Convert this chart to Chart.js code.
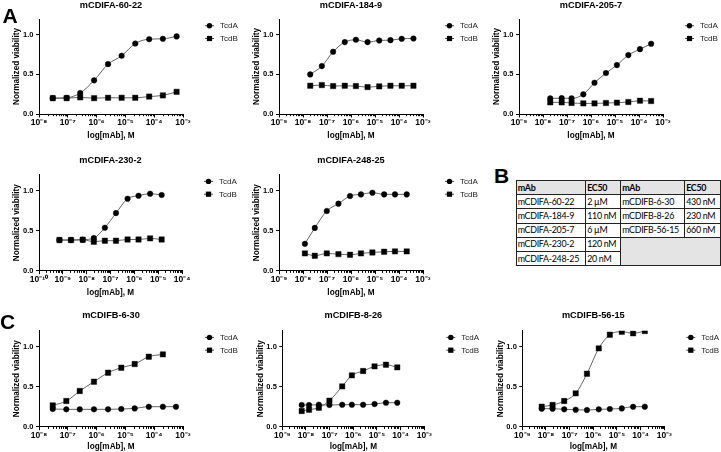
<!DOCTYPE html>
<html><head><meta charset="utf-8">
<script src="https://cdn.jsdelivr.net/npm/chart.js@4.4.1/dist/chart.umd.min.js"></script>
<style>
html,body{margin:0;padding:0;background:#fff;}
#wrap{position:relative;width:721px;height:452px;overflow:hidden;background:#fff;font-family:"Liberation Sans",Arial,sans-serif;}
canvas{position:absolute;background:#fff;}
.lbl{position:absolute;font-weight:bold;font-size:21px;line-height:1;color:#000;font-family:"Liberation Sans",Arial,sans-serif;}
#ec50{position:absolute;left:515.5px;top:180px;border-collapse:collapse;table-layout:fixed;width:204px;font-family:Lato,"Liberation Sans",sans-serif;font-size:8.9px;letter-spacing:-0.3px;color:#000;}
#ec50 td{border:1px solid #222;height:13.2px;padding:0 0 0 1.2px;white-space:nowrap;overflow:hidden;line-height:12px;}
#ec50 tr.hd td{background:#e4e4e4;font-weight:bold;}
#ec50 td.empty{background:#e4e4e4;}
</style>
</head><body>
<div id="wrap">
  <canvas id="c1" width="240" height="150" style="left:0;top:0"></canvas>
  <canvas id="c2" width="240" height="150" style="left:240px;top:0"></canvas>
  <canvas id="c3" width="241" height="150" style="left:480px;top:0"></canvas>
  <canvas id="c4" width="240" height="150" style="left:0;top:150px"></canvas>
  <canvas id="c5" width="240" height="150" style="left:240px;top:150px"></canvas>
  <canvas id="c6" width="240" height="152" style="left:0;top:300px"></canvas>
  <canvas id="c7" width="240" height="152" style="left:240px;top:300px"></canvas>
  <canvas id="c8" width="241" height="152" style="left:480px;top:300px"></canvas>
  <div class="lbl" style="left:2.5px;top:5px">A</div>
  <div class="lbl" style="left:494px;top:165px">B</div>
  <div class="lbl" style="left:0px;top:311px">C</div>
  <table id="ec50"><colgroup><col style="width:69.5px"><col style="width:35px"><col style="width:64px"><col style="width:35.5px"></colgroup><tbody id="ec50body"></tbody></table>
</div>
<script>
// ---------- tick values / labels ----------
const xTickVals_8_3 = [1e-8, 1e-7, 1e-6, 1e-5, 1e-4, 1e-3];
const xTickLbls_8_3 = ['10⁻⁸', '10⁻⁷', '10⁻⁶', '10⁻⁵', '10⁻⁴', '10⁻³'];
const xTickVals_9_3 = [1e-9, 1e-8, 1e-7, 1e-6, 1e-5, 1e-4, 1e-3];
const xTickLbls_9_3 = ['10⁻⁹', '10⁻⁸', '10⁻⁷', '10⁻⁶', '10⁻⁵', '10⁻⁴', '10⁻³'];
const xTickVals_10_4 = [1e-10, 1e-9, 1e-8, 1e-7, 1e-6, 1e-5, 1e-4];
const xTickLbls_10_4 = ['10⁻¹⁰', '10⁻⁹', '10⁻⁸', '10⁻⁷', '10⁻⁶', '10⁻⁵', '10⁻⁴'];
const yTickVals = [0, 0.5, 1.0];
const yTickLbls = ['0.0', '0.5', '1.0'];
const seriesNames = ['TcdA', 'TcdB'];
const xAxisTitle = 'log[mAb], M';
const yAxisTitle = 'Normalized viability';

// ---------- data (concentration in M, normalized viability) ----------
const conc_60_22 = [3.0e-8, 9.1e-8, 2.7e-7, 8.2e-7, 2.5e-6, 7.4e-6, 2.2e-5, 6.7e-5, 2.0e-4, 6.0e-4];
const tcdA_60_22 = [0.20, 0.205, 0.265, 0.425, 0.63, 0.735, 0.89, 0.945, 0.95, 0.98];
const tcdB_60_22 = [0.20, 0.20, 0.21, 0.20, 0.205, 0.205, 0.205, 0.22, 0.235, 0.28];

const conc_184_9 = [2.0e-8, 6.1e-8, 1.8e-7, 5.5e-7, 1.6e-6, 4.9e-6, 1.5e-5, 4.4e-5, 1.3e-4, 4.0e-4];
const tcdA_184_9 = [0.50, 0.605, 0.786, 0.908, 0.937, 0.908, 0.929, 0.933, 0.95, 0.954];
const tcdB_184_9 = [0.357, 0.365, 0.353, 0.357, 0.353, 0.34, 0.349, 0.357, 0.357, 0.357];

const conc_205_7 = [2.0e-8, 6.0e-8, 1.55e-7, 4.8e-7, 1.4e-6, 4.2e-6, 1.2e-5, 3.6e-5, 1.1e-4, 3.2e-4];
const tcdA_205_7 = [0.197, 0.20, 0.197, 0.248, 0.395, 0.517, 0.618, 0.744, 0.819, 0.887];
const tcdB_205_7 = [0.147, 0.147, 0.139, 0.134, 0.134, 0.139, 0.143, 0.151, 0.168, 0.164];

const conc_230_2 = [7.2e-10, 2.2e-9, 6.8e-9, 2.0e-8, 5.8e-8, 1.7e-7, 5.2e-7, 1.5e-6, 4.6e-6, 1.4e-5];
const tcdA_230_2 = [0.383, 0.383, 0.388, 0.408, 0.5375, 0.72, 0.90, 0.9375, 0.9625, 0.946];
const tcdB_230_2 = [0.383, 0.383, 0.3875, 0.3625, 0.375, 0.375, 0.39, 0.39, 0.404, 0.39];

const conc_248_25 = [1.2e-8, 3.1e-8, 9.8e-8, 3.0e-7, 9.1e-7, 2.6e-6, 7.8e-6, 2.4e-5, 6.8e-5, 2.1e-4];
const tcdA_248_25 = [0.336, 0.535, 0.747, 0.838, 0.934, 0.954, 0.975, 0.954, 0.954, 0.954];
const tcdB_248_25 = [0.216, 0.187, 0.216, 0.207, 0.199, 0.216, 0.228, 0.237, 0.241, 0.241];

const conc_6_30 = [3.0e-8, 8.9e-8, 2.6e-7, 8.1e-7, 2.5e-6, 7.2e-6, 2.1e-5, 6.5e-5, 2.0e-4, 5.7e-4];
const tcdA_6_30 = [0.221, 0.217, 0.217, 0.217, 0.217, 0.221, 0.229, 0.25, 0.25, 0.25];
const tcdB_6_30 = [0.267, 0.321, 0.446, 0.5625, 0.675, 0.7375, 0.783, 0.875, 0.904, null];

const conc_8_26 = [6.6e-9, 1.35e-8, 3.5e-8, 9.8e-8, 3.4e-7, 8.7e-7, 2.6e-6, 7.9e-6, 2.4e-5, 7.2e-5];
const tcdA_8_26 = [0.271, 0.271, 0.275, 0.271, 0.275, 0.275, 0.275, 0.283, 0.30, 0.30];
const tcdB_8_26 = [0.196, 0.2125, 0.2375, 0.325, 0.504, 0.642, 0.696, 0.754, 0.775, 0.742];

const conc_56_15 = [6.6e-9, 1.9e-8, 5.9e-8, 1.8e-7, 5.4e-7, 1.7e-6, 5.0e-6, 1.6e-5, 4.8e-5, 1.5e-4];
const tcdA_56_15 = [0.225, 0.225, 0.217, 0.2125, 0.208, 0.217, 0.221, 0.229, 0.25, 0.25];
const tcdB_56_15 = [0.25, 0.271, 0.321, 0.417, 0.6625, 0.979, 1.15, 1.1875, 1.167, 1.196];

// ---------- EC50 table ----------
const tblA_mAb = ['mCDIFA-60-22', 'mCDIFA-184-9', 'mCDIFA-205-7', 'mCDIFA-230-2', 'mCDIFA-248-25'];
const tblA_ec50 = ['2 µM', '110 nM', '6 µM', '120 nM', '20 nM'];
const tblB_mAb = ['mCDIFB-6-30', 'mCDIFB-8-26', 'mCDIFB-56-15'];
const tblB_ec50 = ['430 nM', '230 nM', '660 nM'];
const tblHeader = ['mAb', 'EC50', 'mAb', 'EC50'];

(function buildTable(){
  const tb = document.getElementById('ec50body');
  let h = '<tr class="hd">' + tblHeader.map(t => '<td>' + t + '</td>').join('') + '</tr>';
  for (let i = 0; i < tblA_mAb.length; i++) {
    h += '<tr><td>' + tblA_mAb[i] + '</td><td>' + tblA_ec50[i] + '</td>';
    if (i < tblB_mAb.length) h += '<td>' + tblB_mAb[i] + '</td><td>' + tblB_ec50[i] + '</td>';
    else if (i === tblB_mAb.length) h += '<td class="empty" colspan="2" rowspan="' + (tblA_mAb.length - tblB_mAb.length) + '"></td>';
    h += '</tr>';
  }
  tb.innerHTML = h;
})();

// ---------- chart panels ----------
const panels = [
  {id:'c1', title:'mCDIFA-60-22', x:conc_60_22, a:tcdA_60_22, b:tcdB_60_22, xt:xTickVals_8_3, xl:xTickLbls_8_3},
  {id:'c2', title:'mCDIFA-184-9', x:conc_184_9, a:tcdA_184_9, b:tcdB_184_9, xt:xTickVals_9_3, xl:xTickLbls_9_3},
  {id:'c3', title:'mCDIFA-205-7', x:conc_205_7, a:tcdA_205_7, b:tcdB_205_7, xt:xTickVals_9_3, xl:xTickLbls_9_3},
  {id:'c4', title:'mCDIFA-230-2', x:conc_230_2, a:tcdA_230_2, b:tcdB_230_2, xt:xTickVals_10_4, xl:xTickLbls_10_4},
  {id:'c5', title:'mCDIFA-248-25', x:conc_248_25, a:tcdA_248_25, b:tcdB_248_25, xt:xTickVals_9_3, xl:xTickLbls_9_3},
  {id:'c6', title:'mCDIFB-6-30', x:conc_6_30, a:tcdA_6_30, b:tcdB_6_30, xt:xTickVals_8_3, xl:xTickLbls_8_3},
  {id:'c7', title:'mCDIFB-8-26', x:conc_8_26, a:tcdA_8_26, b:tcdB_8_26, xt:xTickVals_9_3, xl:xTickLbls_9_3},
  {id:'c8', title:'mCDIFB-56-15', x:conc_56_15, a:tcdA_56_15, b:tcdB_56_15, xt:xTickVals_9_3, xl:xTickLbls_9_3}
];
// layout geometry (pixels inside each canvas)
const geom = {
  c1:{L:39, R:183, T:19, B:114, tTop:0, xTitleY:135.7, yTitleX:16.7},
  c2:{L:39, R:183, T:19, B:114, tTop:0, xTitleY:135.7, yTitleX:16.7},
  c3:{L:39, R:183, T:19, B:114, tTop:0, xTitleY:135.7, yTitleX:16.7},
  c4:{L:39, R:182, T:24.7, B:120.7, tTop:4.6, xTitleY:142.3, yTitleX:16.7},
  c5:{L:39, R:183, T:24.7, B:120.7, tTop:4.6, xTitleY:142.3, yTitleX:16.7},
  c6:{L:39, R:183, T:30.7, B:126.7, tTop:10.3, xTitleY:146.7, yTitleX:16.7},
  c7:{L:42.3, R:184.3, T:30.7, B:126.7, tTop:10.3, xTitleY:146.7, yTitleX:20.7},
  c8:{L:42.3, R:184.3, T:30.7, B:126.7, tTop:10.3, xTitleY:146.7, yTitleX:20.7}
};

const FONT = '"Liberation Sans", Arial, sans-serif';
Chart.defaults.font.family = FONT;
Chart.defaults.color = '#000';

const extras = {
  id: 'extras',
  afterDraw(chart) {
    const c = chart.ctx, xs = chart.scales.x;
    c.save();
    // minor ticks on log axis
    c.strokeStyle = '#000'; c.lineWidth = 1;
    const lo = Math.floor(Math.log10(xs.min) + 1e-9), hi = Math.ceil(Math.log10(xs.max) - 1e-9);
    for (let d = lo; d < hi; d++) {
      for (let k = 2; k <= 9; k++) {
        const v = k * Math.pow(10, d);
        if (v < xs.min || v > xs.max) continue;
        const px = Math.round(xs.getPixelForValue(v)) + 0.5;
        c.beginPath(); c.moveTo(px, xs.top); c.lineTo(px, xs.top + 2.2); c.stroke();
      }
    }
    // legend
    const ca = chart.chartArea;
    const lx = ca.right + 26.5;
    chart.data.datasets.forEach((ds, i) => {
      const ly = ca.top + 6.7 + i * 12.8;
      c.strokeStyle = '#333'; c.lineWidth = 0.9;
      c.beginPath(); c.moveTo(lx - 4.5, ly); c.lineTo(lx + 4.5, ly); c.stroke();
      c.fillStyle = '#000';
      if (ds.pointStyle === 'rect') { c.fillRect(lx - 2.6, ly - 2.6, 5.2, 5.2); }
      else { c.beginPath(); c.arc(lx, ly, 2.7, 0, Math.PI * 2); c.fill(); }
      c.fillStyle = '#222'; c.font = '8px ' + FONT; c.textBaseline = 'middle'; c.textAlign = 'left';
      c.fillText(ds.label, lx + 10.5, ly + 0.3);
    });
    c.restore();
  }
};

function pts(xs, ys) {
  const out = [];
  for (let i = 0; i < xs.length; i++) if (ys[i] !== null && ys[i] !== undefined) out.push({x: xs[i], y: ys[i]});
  return out;
}

panels.forEach(p => {
  const g = geom[p.id];
  const cv = document.getElementById(p.id);
  const W = cv.width, H = cv.height;
  const mk = (label, data, style, radius, order) => ({
    label, data, order,
    borderColor: '#555', borderWidth: 0.9,
    pointStyle: style, pointRadius: radius, pointHoverRadius: radius,
    pointBackgroundColor: '#000', pointBorderColor: '#000', pointBorderWidth: 0.4,
    cubicInterpolationMode: 'monotone', fill: false
  });
  new Chart(cv, {
    type: 'line',
    data: { datasets: [
      mk(seriesNames[0], pts(p.x, p.a), 'circle', 2.8, 1),
      mk(seriesNames[1], pts(p.x, p.b), 'rect', 3.8, 0)
    ]},
    plugins: [extras],
    options: {
      responsive: false, animation: false, devicePixelRatio: 1,
      events: [],
      layout: { padding: { left: 0, right: W - g.R, top: 0, bottom: 0 } },
      plugins: {
        legend: { display: false },
        tooltip: { enabled: false },
        title: {
          display: true, text: p.title, fullSize: false, color: '#000',
          font: { size: 9.2, weight: 'bold', family: FONT, lineHeight: 1.2 },
          padding: { top: g.tTop, bottom: g.T - 11.04 - g.tTop }
        }
      },
      scales: {
        x: {
          type: 'logarithmic', min: p.xt[0], max: p.xt[p.xt.length - 1],
          afterBuildTicks: s => { s.ticks = p.xt.map(v => ({ value: v, major: true })); },
          afterFit: s => { s.height = H - g.B; },
          grid: { display: true, drawOnChartArea: false, drawTicks: true, tickLength: 3.5, tickColor: '#000', tickWidth: 1 },
          border: { display: true, color: '#000', width: 1 },
          ticks: {
            autoSkip: false, maxRotation: 0, minRotation: 0, padding: 0.5, color: '#000',
            font: { size: 8.5, weight: 'bold', family: FONT },
            callback: (v) => {
              const k = p.xt.findIndex(t => Math.abs(Math.log10(t) - Math.log10(v)) < 1e-6);
              return k >= 0 ? p.xl[k] : '';
            }
          },
          title: {
            display: true, text: xAxisTitle, color: '#000',
            font: { size: 8.2, weight: 'bold', family: FONT, lineHeight: 1.2 },
            padding: { top: 0, bottom: H - 4.92 - g.xTitleY }
          }
        },
        y: {
          type: 'linear', min: 0, max: 1.2,
          afterBuildTicks: s => { s.ticks = yTickVals.map(v => ({ value: v })); },
          afterFit: s => { s.width = g.L; },
          grid: { display: true, drawOnChartArea: false, drawTicks: true, tickLength: 3, tickColor: '#000', tickWidth: 1 },
          border: { display: true, color: '#000', width: 1 },
          ticks: {
            padding: 2.5, color: '#000',
            font: { size: 7.5, weight: 'bold', family: FONT },
            callback: (v) => { const k = yTickVals.findIndex(t => Math.abs(t - v) < 1e-9); return k >= 0 ? yTickLbls[k] : ''; }
          },
          title: {
            display: true, text: yAxisTitle, color: '#000',
            font: { size: 8.2, weight: 'bold', family: FONT, lineHeight: 1.2 },
            padding: { top: g.yTitleX - 4.92, bottom: 0 }
          }
        }
      }
    }
  });
});
</script>
</body></html>
